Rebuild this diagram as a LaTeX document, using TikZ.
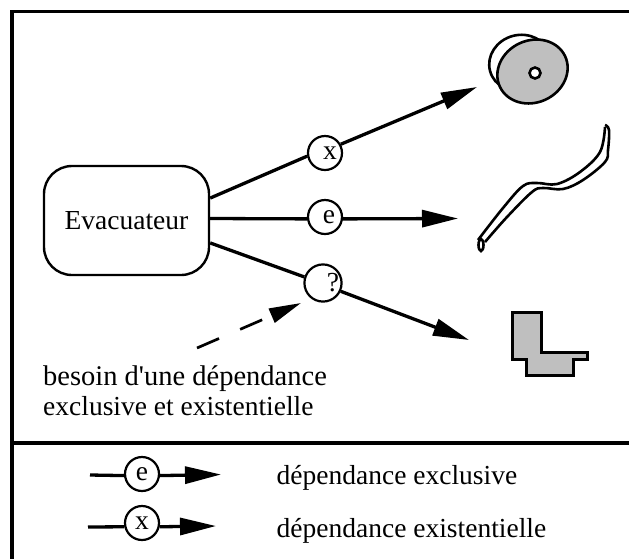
\documentclass[tikz,border=0pt]{standalone}
\usepackage{fontspec}
\setmainfont[Ligatures=TeXOff]{Liberation Serif}
\usetikzlibrary{arrows.meta}
\tikzset{
	depcircle/.style={draw, circle, line width=2.2pt, minimum size=34pt, inner sep=0pt, font=\fontsize{27.5}{28}\selectfont},
	deptext/.style={anchor=base west, inner sep=0pt, font=\fontsize{27.5}{28}\selectfont},
	depline/.style={line width=3.3pt},
	deparrow/.style={depline, -{Triangle[length=36pt, width=17pt]}},
	shapeline/.style={line width=2.6pt},
}

\begin{document}
\begin{tikzpicture}[x=1pt, y=-1pt]
		%%%%% START %%%%%
		
		\useasboundingbox (0, 0) rectangle (629, 558);
		
		\draw[line width=3.3pt] (12, 567) -- (12, 11.3) -- (640, 11.3);
		\draw[line width=3.3pt] (12, 443) -- (640, 443);
		
		\node[draw, line width=2.4pt, rounded corners=28pt, minimum width=165pt, minimum height=109pt, inner sep=0pt, font=\fontsize{27.5}{28}\selectfont] (evac) at (126.5, 220.5) {Evacuateur};
		
		\node[depcircle] (nx) at (325, 153) {\hspace{10pt}\raisebox{-3pt}{x}};
		\node[depcircle] (ne) at (325, 217) {\hspace{8pt}e};
		\node[depcircle] (nq) at (323, 283) {\hspace{20pt}?};
		
		\coordinate (tipx) at (477, 87);
		\coordinate (tipe) at (458, 218.5);
		\coordinate (tipq) at (469, 340);
		\coordinate (dashstart) at (197, 348);
		\coordinate (dashtip) at (301, 303);
		
		\draw[depline] (evac.15) -- (nx.190);
		\draw[deparrow] (nx.29) -- (tipx);
		\draw[depline] (evac.east |- tipe) -- (ne.186);
		\draw[deparrow] (ne.-6) -- (tipe);
		\draw[depline] (evac.-15) -- (nq.162);
		\draw[deparrow] (nq.-25) -- (tipq);
		\draw[line width=2.7pt, dash pattern=on 24pt off 23pt, -{Triangle[length=32pt, width=15pt]}] (dashstart) -- (dashtip);
		
		% disque
		\draw[shapeline] (520, 63) ellipse [x radius=31, y radius=28, rotate=15];
		\draw[shapeline, fill=black!25] (532.5, 71.5) ellipse [x radius=36, y radius=31, rotate=25];
		\draw[shapeline, fill=white] (535, 73) circle (5.5);
		
		% bande
		\draw[shapeline] plot[smooth, tension=0.6] coordinates {(478, 240) (503, 208) (523, 186) (537, 183) (557, 184) (580, 172) (600, 152) (605, 127)};
		\draw[shapeline] plot[smooth, tension=0.6] coordinates {(485, 242) (507, 217) (532, 192) (543, 188) (563, 189) (583, 180) (605, 162) (608, 150) (609, 130) (605, 125)};
		\draw[shapeline] (481, 245) ellipse [x radius=2.5, y radius=6];
		
		% piece
		\draw[line width=3pt, fill=black!25] (512, 312) -- (541, 312) -- (541, 352) -- (587, 352) -- (587, 359) -- (573, 359) -- (573, 375) -- (526, 375) -- (526, 359) -- (512, 359) -- cycle;
		
		\node[deptext, font=\fontsize{28.5}{28}\selectfont] (besoin) at (43, 385) {besoin d'une dépendance};
		\node[deptext] (exclus) at (43, 415) {exclusive et existentielle};
		
		% legende
		\node[depcircle] (le) at (142, 474) {e};
		\node[depcircle] (lx) at (142, 523) {x};
		\coordinate (les) at (90, 475);
		\coordinate (let) at (221, 474.5);
		\coordinate (lxs) at (88, 527);
		\coordinate (lxt) at (216, 526);
		\draw[depline] (les) -- (le.185);
		\draw[deparrow] (le.-5) -- (let);
		\draw[depline] (lxs) -- (lx.192);
		\draw[deparrow] (lx.-12) -- (lxt);
		
		\node[deptext] (lte) at (276.5, 484) {dépendance exclusive};
		\node[deptext] (ltx) at (276.5, 537) {dépendance existentielle};
		
		%%%%% END %%%%%
	\end{tikzpicture}
\end{document}
